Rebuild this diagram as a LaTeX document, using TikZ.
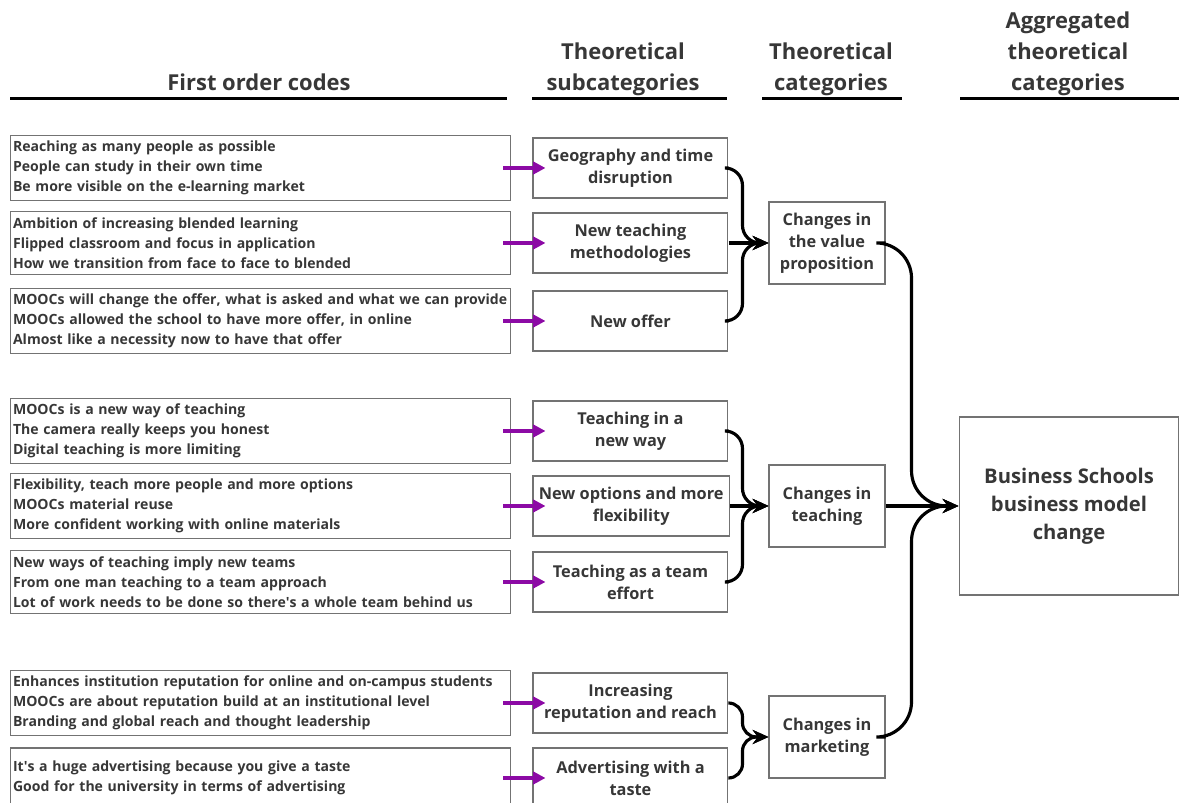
\documentclass[tikz,border=0pt]{standalone}
\usepackage{fontspec}
\setmainfont{Open Sans}
\usetikzlibrary{arrows.meta, positioning}
\definecolor{codegray}{RGB}{55,55,55}
\definecolor{boxgray}{RGB}{115,115,115}
\definecolor{codepurple}{RGB}{140,10,165}

\begin{document}
\begin{tikzpicture}[x=0.02cm, y=0.02cm, every node/.style={align=center, text=codegray},
        codebox/.style={draw=boxgray, line width=0.6pt, minimum width=10.02cm, minimum height=1.2cm, inner xsep=0.06cm, text width=9.9cm, align=left, font=\bfseries\fontsize{8}{11.3}\selectfont, execute at begin node={\hyphenpenalty=10000}},
        subbox/.style={draw=boxgray, line width=0.6pt, minimum width=3.9cm, minimum height=1.2cm, font=\bfseries\fontsize{9.3}{12.5}\selectfont},
        catbox/.style={draw=boxgray, line width=0.6pt, minimum width=2.32cm, minimum height=1.64cm, font=\bfseries\fontsize{9.3}{12.5}\selectfont},
        aggbox/.style={draw=boxgray, line width=0.6pt, minimum width=4.4cm, minimum height=3.56cm, font=\bfseries\fontsize{11.5}{16}\selectfont},
        header/.style={anchor=south, inner sep=0pt, font=\bfseries\fontsize{12.5}{17.6}\selectfont},
        headline/.style={line width=1.7pt, black},
        codearrow/.style={-{Triangle[length=7pt, width=7pt]}, line width=1.9pt, codepurple, shorten <=-0.16cm, shorten >=-0.26cm},
        link/.style={-{Stealth[length=9pt, width=8pt]}, line width=1.8pt, black}]
        \useasboundingbox (0,0) rectangle (1179,803);

        % column headers
        \node[header] (h1) at (259,707) {First order codes\vphantom{g}};
        \node[header] (h2) at (623,707) {Theoretical\\subcategories};
        \node[header] (h3) at (831,707) {Theoretical\\categories};
        \node[header] (h4) at (1068,707) {Aggregated\\theoretical\\categories};
        \draw[headline] (10,704) -- (507,704);
        \draw[headline] (532,704) -- (727,704);
        \draw[headline] (762,704) -- (902,704);
        \draw[headline] (960,704) -- (1179,704);

        % first order codes
        \node[codebox] (c1) at (260.5,635) {Reaching as many people as possible\\People can study in their own time\\Be more visible on the e-learning market};
        \node[codebox] (c2) at (260.5,560) {Ambition of increasing blended learning\\Flipped classroom and focus in application\\How we transition from face to face to blended};
        \node[codebox] (c3) at (260.5,482) {MOOCs will change the offer, what is asked and what we can provide\\MOOCs allowed the school to have more offer, in online\\Almost like a necessity now to have that offer};
        \node[codebox] (c4) at (260.5,372) {MOOCs is a new way of teaching\\The camera really keeps you honest\\Digital teaching is more limiting};
        \node[codebox] (c5) at (260.5,297) {Flexibility, teach more people and more options\\MOOCs material reuse\\More confident working with online materials};
        \node[codebox] (c6) at (260.5,221) {New ways of teaching imply new teams\\From one man teaching to a team approach\\Lot of work needs to be done so there\textquotesingle s a whole team behind us};
        \node[codebox] (c7) at (260.5,100) {Enhances institution reputation for online and on-campus students\\MOOCs are about reputation build at an institutional level\\Branding and global reach and thought leadership};
        \node[codebox] (c8) at (260.5,25) {It\textquotesingle s a huge advertising because you give a taste\\Good for the university in terms of advertising\\[11.3pt]};

        % theoretical subcategories
        \node[subbox, right=0.42cm of c1] (s1) {Geography and time\\disruption};
        \node[subbox, right=0.42cm of c2] (s2) {New teaching\\methodologies};
        \node[subbox, right=0.42cm of c3] (s3) {New offer};
        \node[subbox, right=0.42cm of c4] (s4) {Teaching in a\\new way};
        \node[subbox, right=0.42cm of c5] (s5) {New options and more\\flexibility};
        \node[subbox, right=0.42cm of c6] (s6) {Teaching as a team\\effort};
        \node[subbox, right=0.42cm of c7] (s7) {Increasing\\reputation and reach};
        \node[subbox, right=0.42cm of c8] (s8) {Advertising with a\\taste};

        % theoretical categories
        \node[catbox] (val) at (827,560) {Changes in\\the value\\proposition};
        \node[catbox] (teach) at (827,297) {Changes in\\teaching};
        \node[catbox] (mkt) at (827,66) {Changes in\\marketing};
        \node[aggbox] (agg) at (1069,297) {Business Schools\\business model\\change};

        \foreach \i in {1,...,8}
            \draw[codearrow] (c\i.east) -- (s\i.west);

        \draw[link, rounded corners=10pt] (s1.east) -- ++(14,0) |- (val.west);
        \draw[link] (s2.east) -- (val.west);
        \draw[link, rounded corners=10pt] (s3.east) -- ++(14,0) |- (val.west);
        \draw[link, rounded corners=10pt] (s4.east) -- ++(14,0) |- (teach.west);
        \draw[link] (s5.east) -- (teach.west);
        \draw[link, rounded corners=10pt] (s6.east) -- ++(14,0) |- (teach.west);
        \draw[link, rounded corners=8pt] (s7.east) -- ++(14,0) |- (mkt.west);
        \draw[link, rounded corners=8pt] (s8.east) -- ++(14,0) |- (mkt.west);

        \draw[link, rounded corners=20pt] (val.east) -- ++(26,0) |- (agg.west);
        \draw[link] (teach.east) -- (agg.west);
        \draw[link, rounded corners=20pt] (mkt.east) -- ++(26,0) |- (agg.west);
    \end{tikzpicture}
\end{document}
